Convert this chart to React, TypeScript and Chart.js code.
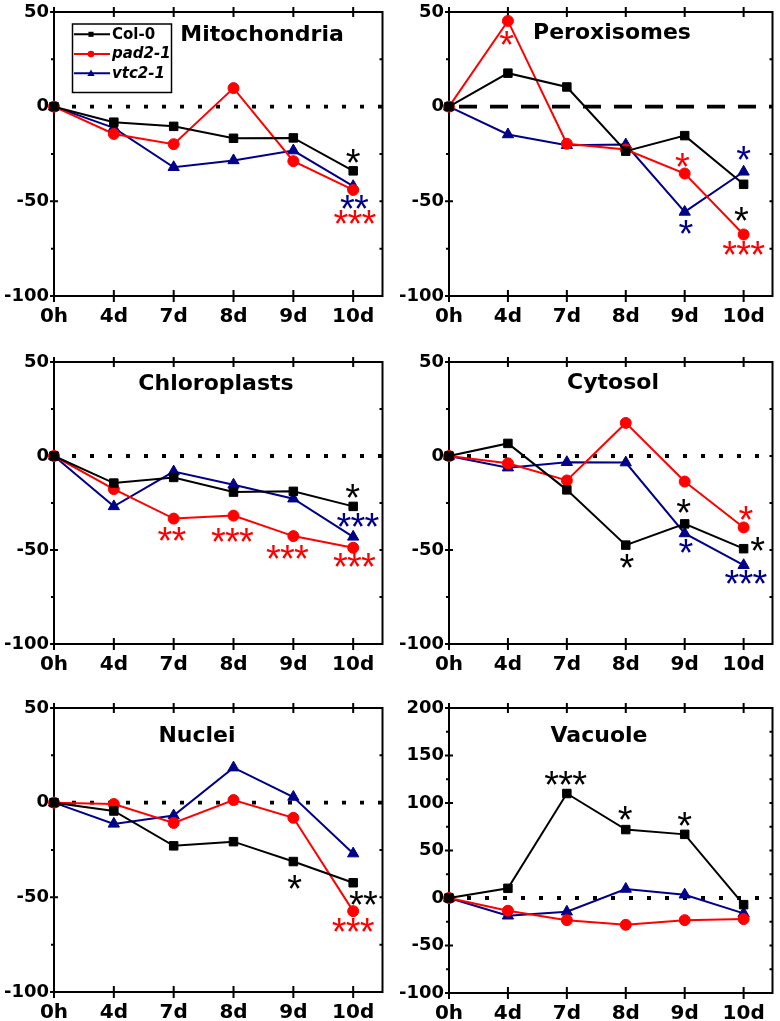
import React, { useEffect, useRef } from 'react';
import { Chart, registerables } from 'chart.js';

Chart.register(...registerables);

// ---------- data ----------
const timeLabels = ['0h', '4d', '7d', '8d', '9d', '10d'];
const seriesNames = ['Col-0', 'pad2-1', 'vtc2-1'];
const seriesColors = ['#000000', '#ff0000', '#000088'];
const seriesMarkers = ['rect', 'circle', 'triangle'];
const seriesRadius = [6, 5.5, 6.5];
const seriesItalic = [false, true, true];

// Mitochondria
const mitoCol0 = [0, -8.2, -10.4, -16.7, -16.5, -33.9];
const mitoPad2 = [0, -14.4, -19.8, 9.8, -28.8, -44];
const mitoVtc2 = [0, -11.2, -32, -28.4, -23.2, -42];
const mitoStars = [[5.0, -25.8, '*', 0], [5.02, -50.2, '**', 2], [5.03, -58.1, '***', 1]];

// Peroxisomes
const peroxCol0 = [0, 17.7, 10.4, -23.5, -15.3, -41];
const peroxPad2 = [0, 45.3, -19.6, -22.6, -35.3, -67.5];
const peroxVtc2 = [0, -14.7, -20.4, -20, -55.6, -34.4];
const peroxStars = [[0.98, 36.1, '*', 1], [3.96, -28.4, '*', 1], [5.0, -24.4, '*', 2], [4.02, -63.5, '*', 2], [4.96, -56.8, '*', 0], [5.0, -74.4, '***', 1]];

// Chloroplasts
const chloroCol0 = [0, -14.4, -11.4, -19.2, -18.8, -26.8];
const chloroPad2 = [0, -17.6, -33.3, -31.7, -42.6, -48.8];
const chloroVtc2 = [0, -26.8, -8.3, -15.3, -22.7, -43];
const chloroStars = [[4.99, -18.8, '*', 0], [5.08, -34.2, '***', 2], [1.97, -41.7, '**', 1], [2.98, -42.1, '***', 1], [3.9, -51.1, '***', 1], [5.02, -55.3, '***', 1]];

// Cytosol
const cytoCol0 = [0, 6.7, -18, -47.4, -36.1, -49.3];
const cytoPad2 = [0, -3.9, -13, 17.6, -13.6, -38];
const cytoVtc2 = [0, -6.2, -3.3, -3.5, -41.2, -58.1];
const cytoStars = [[3.02, -55.8, '*', 0], [3.98, -26.8, '*', 0], [4.02, -47.9, '*', 2], [5.04, -30.3, '*', 1], [5.24, -47, '*', 0], [5.04, -64.1, '***', 2]];

// Nuclei
const nucleiCol0 = [0, -4.4, -22.8, -20.6, -31.1, -42.3];
const nucleiPad2 = [0, -0.7, -10.7, 1.4, -8, -57.3];
const nucleiVtc2 = [0, -11.2, -6.8, 18.5, 3, -26.9];
const nucleiStars = [[4.02, -41.8, '*', 0], [5.17, -50.4, '**', 0], [5.0, -64.6, '***', 1]];

// Vacuole
const vacCol0 = [0, 10.2, 110, 72, 67, -7];
const vacPad2 = [0, -13.4, -23.3, -28.2, -23.3, -22.2];
const vacVtc2 = [0, -18.7, -14.5, 9.5, 3.5, -16.2];
const vacStars = [[1.98, 125.9, '***', 0], [2.99, 89.6, '*', 0], [4.0, 83.6, '*', 0]];

// ---------- layout ----------
const panels = [
  { title: 'Mitochondria', series: [mitoCol0, mitoPad2, mitoVtc2], stars: mitoStars, yMin: -100, yMax: 50, zero: 'dot', legend: true,
    box: { x: 0, y: 0, w: 390, h: 326 }, area: { l: 54, t: 12, r: 383, b: 296 }, tpos: { x: 262, y: 41 } },
  { title: 'Peroxisomes', series: [peroxCol0, peroxPad2, peroxVtc2], stars: peroxStars, yMin: -100, yMax: 50, zero: 'dash', legend: false,
    box: { x: 390, y: 0, w: 390, h: 326 }, area: { l: 449, t: 12, r: 777, b: 296 }, tpos: { x: 612, y: 38.5 } },
  { title: 'Chloroplasts', series: [chloroCol0, chloroPad2, chloroVtc2], stars: chloroStars, yMin: -100, yMax: 50, zero: 'dot', legend: false,
    box: { x: 0, y: 330, w: 390, h: 344 }, area: { l: 54, t: 362, r: 383, b: 644 }, tpos: { x: 216, y: 390 } },
  { title: 'Cytosol', series: [cytoCol0, cytoPad2, cytoVtc2], stars: cytoStars, yMin: -100, yMax: 50, zero: 'dot', legend: false,
    box: { x: 390, y: 330, w: 390, h: 344 }, area: { l: 449, t: 362, r: 777, b: 644 }, tpos: { x: 613, y: 389 } },
  { title: 'Nuclei', series: [nucleiCol0, nucleiPad2, nucleiVtc2], stars: nucleiStars, yMin: -100, yMax: 50, zero: 'dot', legend: false,
    box: { x: 0, y: 680, w: 390, h: 341 }, area: { l: 54, t: 708, r: 383, b: 992 }, tpos: { x: 197, y: 742 } },
  { title: 'Vacuole', series: [vacCol0, vacPad2, vacVtc2], stars: vacStars, yMin: -100, yMax: 200, zero: 'dot', legend: false,
    box: { x: 390, y: 680, w: 390, h: 341 }, area: { l: 449, t: 708, r: 777, b: 993 }, tpos: { x: 599, y: 742 } },
];

const FAMILY = "'DejaVu Sans', sans-serif";
const STAR_FONT = "38px 'Liberation Sans', Arial, sans-serif";
const STAR_STEP = 14;

function drawMarker(ctx: CanvasRenderingContext2D, style: string, x: number, y: number, r: number) {
  ctx.beginPath();
  if (style === 'rect') {
    const s = r * Math.SQRT1_2;
    ctx.rect(x - s, y - s, 2 * s, 2 * s);
  } else if (style === 'circle') {
    ctx.arc(x, y, r, 0, Math.PI * 2);
  } else {
    for (let k = 0; k < 3; k++) {
      const ang = (k * 2 * Math.PI) / 3;
      const px = x + Math.sin(ang) * r;
      const py = y - Math.cos(ang) * r;
      if (k === 0) ctx.moveTo(px, py); else ctx.lineTo(px, py);
    }
    ctx.closePath();
  }
  ctx.fill();
}

function makeDecor(cfg: any) {
  return {
    id: 'decor',
    beforeDatasetsDraw(chart: any) {
      const { ctx, chartArea: a, scales } = chart;
      const ys = scales.y, xs = scales.x;
      ctx.save();
      const y0 = ys.getPixelForValue(0);
      ctx.strokeStyle = '#000';
      ctx.lineWidth = 3.8;
      if (cfg.zero === 'dash') { ctx.setLineDash([18, 13]); ctx.lineDashOffset = 21; }
      else { ctx.setLineDash([4, 14]); ctx.lineDashOffset = 0; }
      ctx.beginPath(); ctx.moveTo(a.left, y0); ctx.lineTo(a.right, y0); ctx.stroke();
      ctx.setLineDash([]);
      ctx.lineWidth = 2;
      ctx.strokeRect(a.left, a.top, a.right - a.left, a.bottom - a.top);
      ctx.beginPath();
      for (let v = cfg.yMin; v <= cfg.yMax; v += 25) {
        const y = ys.getPixelForValue(v);
        if (v % 50 === 0) { ctx.moveTo(a.left - 4, y); ctx.lineTo(a.left + 4, y); }
        else { ctx.moveTo(a.left - 3, y); ctx.lineTo(a.left, y); }
        ctx.moveTo(a.right - 3, y); ctx.lineTo(a.right, y);
      }
      for (let i = 0; i < timeLabels.length; i++) {
        const x = xs.getPixelForValue(i);
        ctx.moveTo(x, a.top - 5); ctx.lineTo(x, a.top + 5);
        ctx.moveTo(x, a.bottom - 6); ctx.lineTo(x, a.bottom + 6);
      }
      ctx.stroke();
      ctx.restore();
    },
    afterDatasetsDraw(chart: any) {
      const { ctx, scales } = chart;
      const ys = scales.y, xs = scales.x;
      const bx = cfg.box.x, by = cfg.box.y;
      ctx.save();
      // title
      ctx.fillStyle = '#000';
      ctx.font = `bold 22px ${FAMILY}`;
      ctx.textAlign = 'center';
      ctx.textBaseline = 'alphabetic';
      ctx.fillText(cfg.title, cfg.tpos.x - bx, cfg.tpos.y - by);
      // significance stars
      ctx.font = STAR_FONT;
      const m = ctx.measureText('*');
      const vshift = (m.actualBoundingBoxAscent - m.actualBoundingBoxDescent) / 2;
      for (const st of cfg.stars) {
        const [xi, yv, text, s] = st;
        const px = xs.getPixelForValue(xi);
        const py = ys.getPixelForValue(yv) + vshift;
        ctx.fillStyle = seriesColors[s];
        const n = text.length;
        for (let k = 0; k < n; k++) {
          ctx.fillText('*', px + (k - (n - 1) / 2) * STAR_STEP, py);
        }
      }
      // legend
      if (cfg.legend) {
        const lx = 72.5 - bx, ly = 24 - by;
        ctx.strokeStyle = '#000';
        ctx.lineWidth = 1.5;
        ctx.strokeRect(lx, ly, 99, 68.5);
        const rows = [34.3, 54, 73.3];
        chart.data.datasets.forEach((ds: any, s: number) => {
          const ry = rows[s] - by;
          ctx.strokeStyle = seriesColors[s];
          ctx.fillStyle = seriesColors[s];
          ctx.lineWidth = 2;
          ctx.beginPath(); ctx.moveTo(74 - bx, ry); ctx.lineTo(110 - bx, ry); ctx.stroke();
          drawMarker(ctx, seriesMarkers[s], 91 - bx, ry + (s === 2 ? 0.5 : 0), s === 0 ? 3.6 : s === 1 ? 3.3 : 4.2);
          ctx.fillStyle = '#000';
          ctx.font = `${seriesItalic[s] ? 'italic ' : ''}bold 15px ${FAMILY}`;
          ctx.textAlign = 'left';
          ctx.textBaseline = 'middle';
          ctx.fillText(ds.label, 112 - bx, ry + 0.5);
        });
      }
      ctx.restore();
    },
  };
}

function Panel({ cfg }: { cfg: any }) {
  const ref = useRef<HTMLCanvasElement | null>(null);
  const { box, area } = cfg;
  useEffect(() => {
    if (!ref.current) return;
    const chart = new Chart(ref.current, {
      type: 'line',
      data: {
        datasets: cfg.series.map((vals: number[], s: number) => ({
          label: seriesNames[s],
          data: vals.map((v, i) => ({ x: i, y: v })),
          borderColor: seriesColors[s],
          backgroundColor: seriesColors[s],
          pointBackgroundColor: seriesColors[s],
          pointBorderColor: seriesColors[s],
          pointStyle: seriesMarkers[s],
          pointRadius: seriesRadius[s],
          pointHoverRadius: seriesRadius[s],
          borderWidth: 2,
          pointBorderWidth: 1,
          tension: 0,
          fill: false,
          clip: false,
        })),
      },
      options: {
        responsive: false,
        animation: false,
        events: [],
        layout: { padding: { left: 0, top: area.t - box.y, right: box.x + box.w - area.r, bottom: 0 } },
        plugins: { legend: { display: false }, tooltip: { enabled: false } },
        scales: {
          x: {
            type: 'linear', position: 'bottom', min: 0, max: 5.49, bounds: 'data',
            grid: { display: false, drawTicks: true, tickLength: 6 },
            border: { display: false },
            ticks: {
              stepSize: 1, includeBounds: false, autoSkip: false, maxRotation: 0, padding: 3,
              color: '#000', font: { family: FAMILY, size: 20, weight: 'bold' },
              callback: (v: any) => (Number.isInteger(v) && timeLabels[v] !== undefined ? timeLabels[v] : ''),
            },
            afterFit: (s: any) => { s.height = box.y + box.h - area.b; },
          },
          y: {
            type: 'linear', position: 'left', min: cfg.yMin, max: cfg.yMax,
            grid: { display: false, drawTicks: true, tickLength: 4 },
            border: { display: false },
            ticks: {
              stepSize: 50, padding: 1, autoSkip: false,
              color: '#000', font: { family: FAMILY, size: 18, weight: 'bold' },
              callback: (v: any) => String(v),
            },
            afterFit: (s: any) => { s.width = area.l - box.x; },
          },
        },
      } as any,
      plugins: [makeDecor(cfg)],
    });
    return () => chart.destroy();
  }, [cfg]);
  return (
    <canvas
      ref={ref}
      width={box.w}
      height={box.h}
      style={{ position: 'absolute', left: box.x, top: box.y, width: box.w, height: box.h, display: 'block' }}
    />
  );
}

export default function App() {
  return (
    <div style={{ position: 'absolute', left: 0, top: 0, width: 780, height: 1021, background: '#fff', overflow: 'hidden' }}>
      {panels.map((p) => (
        <Panel key={p.title} cfg={p} />
      ))}
    </div>
  );
}
